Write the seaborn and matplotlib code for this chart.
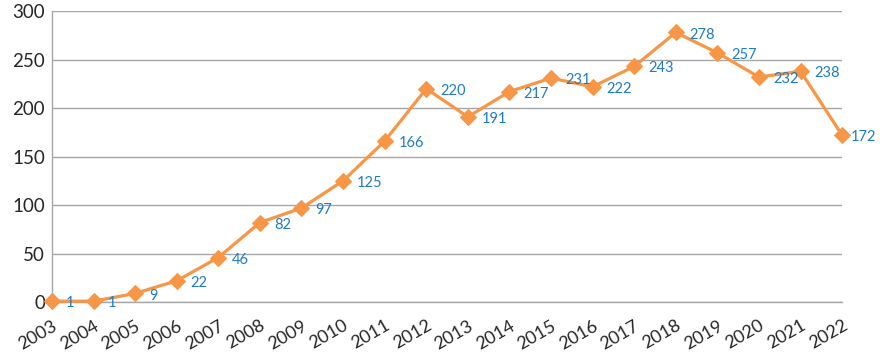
import matplotlib
matplotlib.use("Agg")
import matplotlib.pyplot as plt
import seaborn as sns
import pandas as pd

years = list(range(2003, 2023))
counts = [1, 1, 9, 22, 46, 82, 97, 125, 166, 220, 191, 217, 231, 222, 243, 278, 257, 232, 238, 172]
y_ticks = [0, 50, 100, 150, 200, 250, 300]

LINE = "#F79646"
LABEL = "#1F7BC6"
GRID = "#A6A6A6"

sns.set_style("white")
plt.rcParams["font.family"] = ["Lato", "DejaVu Sans"]

df = pd.DataFrame({"year": years, "count": counts})

fig = plt.figure(figsize=(8.8, 3.58), dpi=100)
ax = fig.add_axes([0.059, 0.156, 0.898, 0.813])

sns.lineplot(data=df, x="year", y="count", ax=ax, color=LINE, linewidth=2.3,
             marker="D", markersize=8.5, markeredgecolor=LINE, clip_on=False, zorder=3)

# value labels to the right of each point (last one pulled in to fit the figure)
for i, (x, y) in enumerate(zip(years, counts)):
    dx = 6 if i == len(years) - 1 else 10
    ax.annotate(str(y), (x, y), xytext=(dx, -1.5), textcoords="offset points",
                ha="left", va="center", color=LABEL, fontsize=10.5)

ax.set_xlim(2003, 2022)
ax.set_ylim(0, 300)
ax.set_yticks(y_ticks)
ax.set_xticks(years)
ax.set_xticklabels([str(y) for y in years], rotation=30, ha="right",
                   rotation_mode="anchor", fontsize=13)
ax.tick_params(axis="y", length=0, labelsize=13.5, pad=5)
ax.tick_params(axis="x", length=6, color=GRID, width=1, direction="out", pad=5)
ax.yaxis.grid(True, color=GRID, linewidth=1)
ax.set_axisbelow(True)
ax.set_xlabel("")
ax.set_ylabel("")
for side in ["top", "right"]:
    ax.spines[side].set_visible(False)
for side in ["left", "bottom"]:
    ax.spines[side].set_color(GRID)
    ax.spines[side].set_linewidth(1)

fig.savefig("out.png", dpi=100)
